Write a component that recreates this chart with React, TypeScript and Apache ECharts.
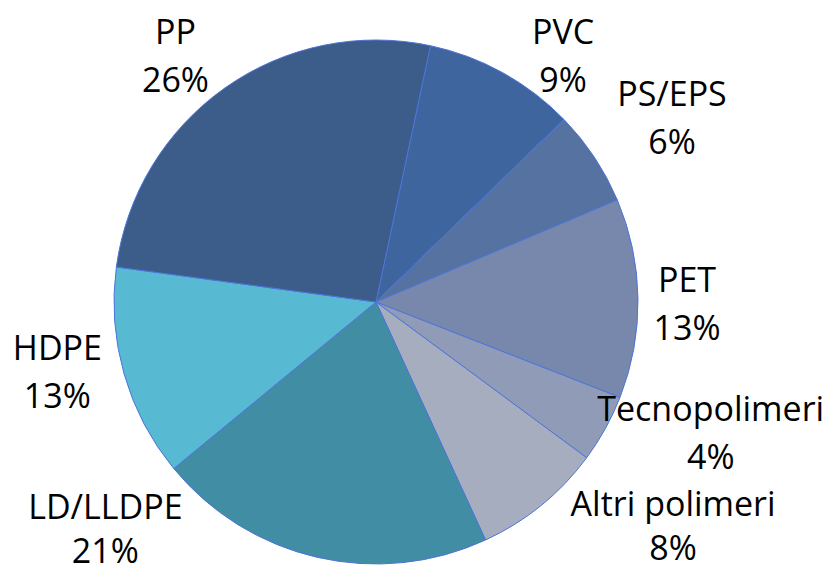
import React, { useEffect, useRef } from "react";
import * as echarts from "echarts";

const categories = ["PVC", "PS/EPS", "PET", "Tecnopolimeri", "Altri polimeri", "LD/LLDPE", "HDPE", "PP"];
const shares = [9.4, 5.9, 12.3, 4.2, 8.0, 20.9, 13.1, 26.2];
const percentLabels = ["9%", "6%", "13%", "4%", "8%", "21%", "13%", "26%"];

const sliceColors = ["#3e659e", "#5672a1", "#7887ac", "#909cb7", "#a6adbf", "#418ea4", "#58b9d3", "#3c5c8a"];
// label placement: [angle clockwise from 12 o'clock (deg), distance from centre (px)]
const labelPlacement: [number, number][] = [
  [37.1, 310], [58, 349], [90.2, 311], [111.2, 359], [127.8, 376], [229.3, 357], [257.8, 326], [320.9, 318],
];
// labels near the bottom edge use a compact line box so they stay inside the picture
const compactLabel = [false, false, false, false, true, true, false, false];

const CX = 376;
const CY = 302;
const R = 262;

const font = { fontFamily: "Open Sans", fontSize: 34, color: "#000000" };

export default function App() {
  const ref = useRef<HTMLDivElement>(null);
  useEffect(() => {
    document.body.style.margin = "0";
    const chart = echarts.init(ref.current!, undefined, { renderer: "svg" });
    chart.setOption({
      animation: false,
      backgroundColor: "#ffffff",
      series: [
        {
          type: "pie",
          center: [CX, CY],
          radius: [0, R],
          startAngle: 78,
          clockwise: true,
          avoidLabelOverlap: false,
          itemStyle: { borderColor: "#4d74d9", borderWidth: 1 },
          label: {
            show: true,
            position: "outside",
            ...font,
            align: "center",
            formatter: (p: any) => `{n|${p.name}}\n{v|${percentLabels[p.dataIndex]}}`,
            rich: {
              n: { ...font, lineHeight: 48 },
              v: { ...font, lineHeight: 48 },
            },
          },
          labelLine: { show: false },
          labelLayout: (p: any) => {
            const [a, d] = labelPlacement[p.dataIndex];
            const rad = (a * Math.PI) / 180;
            return {
              x: CX + d * Math.sin(rad),
              y: CY - d * Math.cos(rad) - (compactLabel[p.dataIndex] ? 14 : 0),
              align: "center",
              verticalAlign: "middle",
            };
          },
          data: categories.map((name, i) => ({
            name,
            value: shares[i],
            itemStyle: { color: sliceColors[i] },
            label: compactLabel[i]
              ? {
                  rich: {
                    n: { ...font, lineHeight: 58 },
                    v: { ...font, lineHeight: 30 },
                  },
                }
              : undefined,
          })),
        },
      ],
    });
    return () => chart.dispose();
  }, []);
  return <div ref={ref} style={{ width: 835, height: 575 }} />;
}
